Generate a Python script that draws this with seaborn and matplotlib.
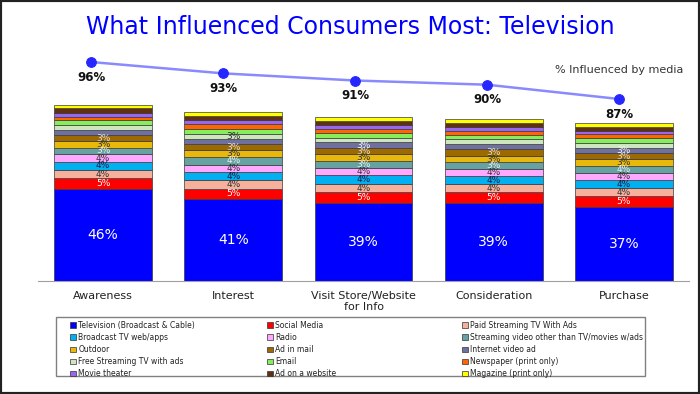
import numpy as np
import matplotlib
matplotlib.use("Agg")
import matplotlib.pyplot as plt
from matplotlib.patches import Patch, Rectangle
import seaborn as sns

# Funnel stages and share of consumers influenced by any media
stages = ["Awareness", "Interest", "Visit Store/Website\nfor Info", "Consideration", "Purchase"]
influenced = [95.8, 93.1, 91.4, 90.4, 87.0]

# Media, listed from the bottom of each stack to the top
media = ["Television (Broadcast & Cable)", "Social Media", "Paid Streaming TV With Ads",
         "Broadcast TV web/apps", "Radio", "Streaming video other than TV/movies w/ads",
         "Outdoor", "Ad in mail", "Internet video ad",
         "Free Streaming TV with ads", "Email", "Newspaper (print only)",
         "Movie theater", "Ad on a website", "Magazine (print only)"]

television = [46, 41, 39, 39, 37]
social_media = [5.3, 5.2, 5.3, 5.4, 5.3]
paid_streaming = [4.3, 4.2, 4.3, 4.0, 4.0]
broadcast_web = [4.0, 4.0, 4.4, 4.0, 4.0]
radio = [3.7, 3.8, 3.7, 3.7, 3.7]
streaming_video = [3.4, 3.9, 3.3, 3.4, 3.6]
outdoor = [3.2, 3.2, 3.3, 3.0, 3.3]
ad_in_mail = [3.0, 3.2, 3.0, 3.4, 3.0]
internet_video = [2.45, 2.45, 3.0, 2.45, 2.8]
free_streaming = [2.45, 2.7, 2.3, 2.45, 2.3]
email = [2.45, 2.45, 2.4, 2.4, 2.45]
newspaper = [1.8, 2.2, 2.2, 2.0, 2.0]
movie_theater = [1.9, 2.0, 2.0, 2.0, 1.7]
ad_on_website = [2.4, 2.4, 2.0, 2.0, 2.0]
magazine = [1.7, 1.7, 1.8, 1.6, 1.7]

shares = [television, social_media, paid_streaming, broadcast_web, radio, streaming_video,
          outdoor, ad_in_mail, internet_video, free_streaming, email, newspaper,
          movie_theater, ad_on_website, magazine]

colors = ["#0000FF", "#FF0000", "#F7B09C", "#00B0F0", "#FFA8FF", "#66A2A2",
          "#E8B80A", "#9C6A00", "#7070A0", "#CDE6C0", "#86EE5A", "#FF6600",
          "#9966F0", "#603010", "#FFFF00"]
label_colors = ["white", "white", "#333333", "#1a1a40", "#333333", "#eeeeee",
                "#333333", "#dddddd", "#eeeeee", "#333333", "#333333", "#333333",
                "#333333", "#333333", "#333333"]

sns.set_style("white")
plt.rcParams["font.family"] = ["DejaVu Sans"]

fig = plt.figure(figsize=(7, 3.94), dpi=100)

# stacked bars
ax = fig.add_axes([38 / 700, (394 - 281) / 394, 651 / 700, (281 - 100) / 394])
bottoms = np.zeros(len(stages))
for name, vals, c in zip(media, shares, colors):
    sns.barplot(x=stages, y=vals, bottom=bottoms, color=c, saturation=1, width=0.75,
                edgecolor="#3a3a3a", linewidth=0.5, errorbar=None, ax=ax)
    bottoms += np.array(vals)

for i, (cont, vals, lc) in enumerate(zip(ax.containers, shares, label_colors)):
    labels = ["{:.0f}%".format(v) if v >= 2.5 else "" for v in vals]
    ax.bar_label(cont, labels=labels, label_type="center", color=lc,
                 fontsize=10 if i == 0 else 6.5)

ax.set_ylim(0, 90.5)
ax.set_xlim(-0.5, 4.5)
ax.set_yticks([])
ax.set_ylabel("")
for s in ["top", "left", "right"]:
    ax.spines[s].set_visible(False)
ax.spines["bottom"].set_color("#a0a0a0")
ax.tick_params(axis="x", length=0, pad=7, labelsize=8, labelcolor="#222222")

# line of % influenced by media
ax2 = fig.add_axes([25 / 700, (394 - 110) / 394, 660 / 700, 60 / 394])
pos = np.arange(len(stages))
sns.lineplot(x=pos, y=influenced, ax=ax2, color="#8A8AFF", linewidth=1.8, marker="o",
             markersize=7, markerfacecolor="#2626FF", markeredgecolor="#2626FF")
for x, v in zip(pos, influenced):
    ax2.annotate("{:.0f}%".format(v), (x, v), xytext=(0, -11), textcoords="offset points",
                 ha="center", va="center", fontsize=8.5, fontweight="bold", color="#111111")
ax2.set_xlim(-0.5, 4.5)
ax2.set_ylim(84.38, 98.66)
ax2.axis("off")

fig.text(683 / 700, 1 - 70 / 394, "% Influenced by media", ha="right", va="center",
         fontsize=8, color="#333333")

fig.text(0.5, 1 - 27 / 394, "What Influenced Consumers Most: Television", ha="center",
         va="center", fontsize=17, color="#0000FF")

# legend in three columns, read across rows
col_x = [70, 267, 462]
for j in range(3):
    handles = [Patch(facecolor=colors[k], edgecolor="#333333", linewidth=0.5)
               for k in range(j, len(media), 3)]
    names = media[j::3]
    fig.legend(handles, names, loc="upper left", bbox_to_anchor=(col_x[j] / 700, 1 - 321 / 394),
               frameon=False, fontsize=5.5, handlelength=0.8, handleheight=0.8,
               handletextpad=0.3, labelspacing=0.4, borderpad=0, borderaxespad=0,
               labelcolor="#222222")

fig.patches.append(Rectangle((56 / 700, 1 - 376 / 394), 589 / 700, 59 / 394,
                             transform=fig.transFigure, fill=False, edgecolor="#808080",
                             linewidth=1))
fig.patches.append(Rectangle((0, 0), 1, 1, transform=fig.transFigure, fill=False,
                             edgecolor="#222222", linewidth=3))

fig.savefig("out.png", dpi=100)
